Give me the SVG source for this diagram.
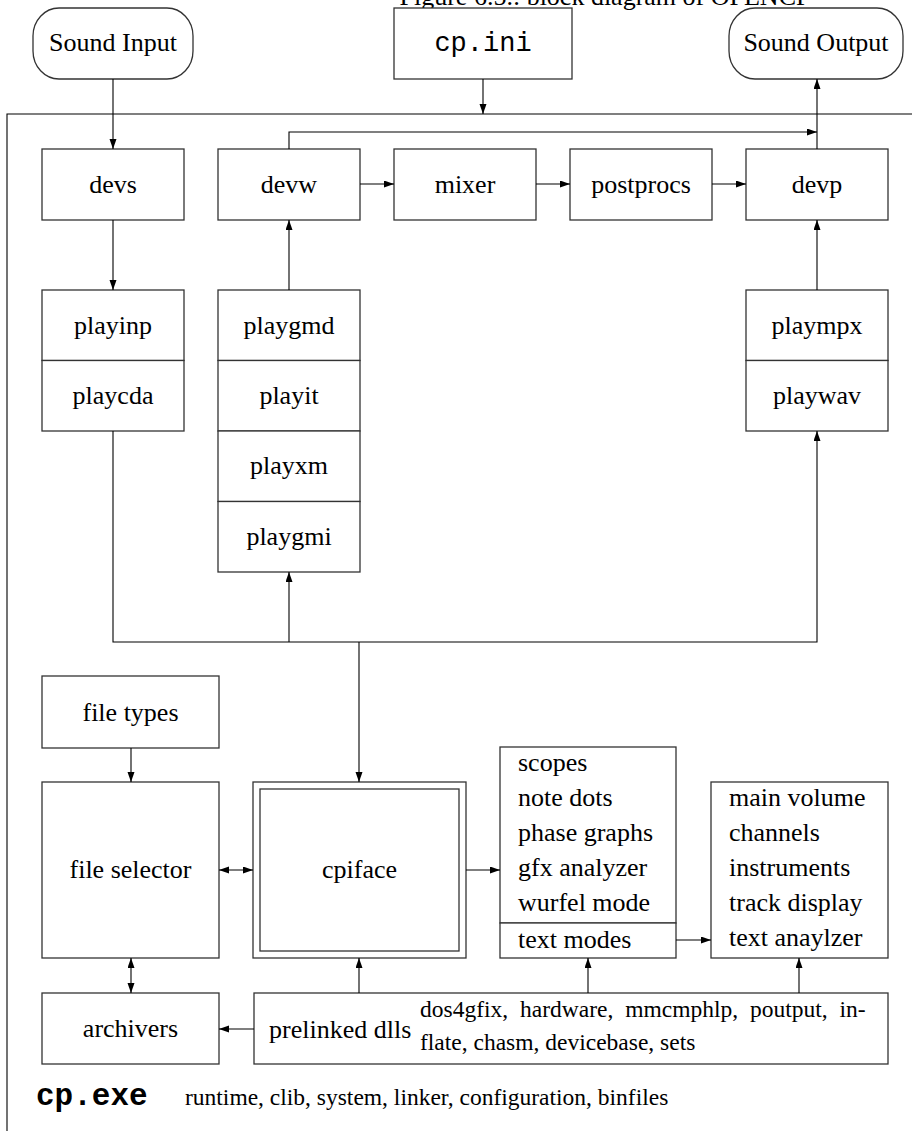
<svg xmlns="http://www.w3.org/2000/svg" width="912" height="1131" viewBox="0 0 912 1131">
<style>
.b{fill:#fff;stroke:#333;stroke-width:1.3}
.t{font-family:"Liberation Serif","Times New Roman",serif;font-size:26px;fill:#000}
.m{text-anchor:middle}
.s{font-family:"Liberation Serif","Times New Roman",serif;font-size:23.5px;fill:#000}
.mono{font-family:"Liberation Mono","Courier New",monospace;fill:#000}
.c{fill:none;stroke:#000;stroke-width:1.1}
</style>
<defs>
<marker id="ah" markerUnits="userSpaceOnUse" markerWidth="11" markerHeight="8" refX="10" refY="3.5" orient="auto-start-reverse">
<path d="M0,0 L10,3.5 L0,7 Z" fill="#000"/>
</marker>
</defs>
<rect width="912" height="1131" fill="#fff"/>
<text class="t m" x="605" y="5">Figure 6.5.: block diagram of OPENCP</text>
<g id="frame"><path class="c" d="M7,1131 V114 H912" stroke="#333" stroke-width="1.3"/></g>
<g id="sound-input"><rect class="b" x="33" y="8" width="160" height="71" rx="26" ry="28"/><text class="t m" x="113" y="51">Sound Input</text></g>
<g id="cp-ini"><rect class="b" x="394" y="8" width="178" height="71"/><text class="mono m" font-size="27" x="483" y="51">cp.ini</text></g>
<g id="sound-output"><rect class="b" x="729" y="8" width="174" height="71" rx="26" ry="28"/><text class="t m" x="816" y="51">Sound Output</text></g>
<g id="devs"><rect class="b" x="42" y="149" width="142" height="71"/><text class="t m" x="113" y="193">devs</text></g>
<g id="devw"><rect class="b" x="218" y="149" width="142" height="71"/><text class="t m" x="289" y="193">devw</text></g>
<g id="mixer"><rect class="b" x="394" y="149" width="142" height="71"/><text class="t m" x="465" y="193">mixer</text></g>
<g id="postprocs"><rect class="b" x="570" y="149" width="142" height="71"/><text class="t m" x="641" y="193">postprocs</text></g>
<g id="devp"><rect class="b" x="746" y="149" width="142" height="71"/><text class="t m" x="817" y="193">devp</text></g>
<g id="input-players">
<rect class="b" x="42" y="290" width="142" height="70.5"/><text class="t m" x="113" y="334">playinp</text>
<rect class="b" x="42" y="360.5" width="142" height="70.5"/><text class="t m" x="113" y="404">playcda</text>
</g>
<g id="wave-players">
<rect class="b" x="218" y="290" width="142" height="70.5"/><text class="t m" x="289" y="334">playgmd</text>
<rect class="b" x="218" y="360.5" width="142" height="70.5"/><text class="t m" x="289" y="404">playit</text>
<rect class="b" x="218" y="431" width="142" height="70.5"/><text class="t m" x="289" y="474">playxm</text>
<rect class="b" x="218" y="501.5" width="142" height="70.5"/><text class="t m" x="289" y="545">playgmi</text>
</g>
<g id="output-players">
<rect class="b" x="746" y="290" width="142" height="70.5"/><text class="t m" x="817" y="334">plaympx</text>
<rect class="b" x="746" y="360.5" width="142" height="70.5"/><text class="t m" x="817" y="404">playwav</text>
</g>
<g id="file-types"><rect class="b" x="42" y="676" width="177" height="72"/><text class="t m" x="130.5" y="721">file types</text></g>
<g id="file-selector"><rect class="b" x="42" y="782" width="177" height="176"/><text class="t m" x="130.5" y="878">file selector</text></g>
<g id="cpiface"><rect class="b" x="253" y="782" width="213" height="176"/><rect class="b" x="260" y="789" width="199" height="162"/><text class="t m" x="359.5" y="878">cpiface</text></g>
<g id="gfx-modes"><rect class="b" x="500" y="747" width="176" height="176"/><rect class="b" x="500" y="923" width="176" height="35"/>
<text class="t" x="518" y="771">scopes</text><text class="t" x="518" y="806">note dots</text><text class="t" x="518" y="841">phase graphs</text><text class="t" x="518" y="876">gfx analyzer</text><text class="t" x="518" y="911">wurfel mode</text><text class="t" x="518" y="948">text modes</text></g>
<g id="text-modes"><rect class="b" x="711" y="782" width="177" height="176"/>
<text class="t" x="729" y="806">main volume</text><text class="t" x="729" y="841">channels</text><text class="t" x="729" y="876">instruments</text><text class="t" x="729" y="911">track display</text><text class="t" x="729" y="946">text anaylzer</text></g>
<g id="archivers"><rect class="b" x="42" y="993" width="177" height="71"/><text class="t m" x="130.5" y="1037">archivers</text></g>
<g id="prelinked-dlls"><rect class="b" x="254" y="993" width="634" height="71"/><text class="t" x="269" y="1038">prelinked dlls</text>
<text class="s" x="420" y="1017" word-spacing="6">dos4gfix, hardware, mmcmphlp, poutput, in-</text>
<text class="s" x="420" y="1050">flate, chasm, devicebase, sets</text></g>
<g id="cp-exe"><text class="mono" font-size="31" font-weight="bold" x="36" y="1105">cp.exe</text><text class="s" x="185" y="1105">runtime, clib, system, linker, configuration, binfiles</text></g>
<g id="connectors">
<path class="c" d="M113,79 V149" marker-end="url(#ah)"/>
<path class="c" d="M483,79 V114" marker-end="url(#ah)"/>
<path class="c" d="M289,149 V132 H817" marker-end="url(#ah)"/>
<path class="c" d="M817,149 V79" marker-end="url(#ah)"/>
<path class="c" d="M360,184 H394" marker-end="url(#ah)"/>
<path class="c" d="M536,184 H570" marker-end="url(#ah)"/>
<path class="c" d="M712,184 H746" marker-end="url(#ah)"/>
<path class="c" d="M113,220 V290" marker-end="url(#ah)"/>
<path class="c" d="M289,290 V220" marker-end="url(#ah)"/>
<path class="c" d="M817,290 V220" marker-end="url(#ah)"/>
<path class="c" d="M113,431 V642 H817 V431" marker-end="url(#ah)"/>
<path class="c" d="M289,642 V572" marker-end="url(#ah)"/>
<path class="c" d="M359,642 V782" marker-end="url(#ah)"/>
<path class="c" d="M131,748 V782" marker-end="url(#ah)"/>
<path class="c" d="M219,870 H253" marker-start="url(#ah)" marker-end="url(#ah)"/>
<path class="c" d="M466,870 H500" marker-end="url(#ah)"/>
<path class="c" d="M676,940 H711" marker-end="url(#ah)"/>
<path class="c" d="M131,958 V993" marker-start="url(#ah)" marker-end="url(#ah)"/>
<path class="c" d="M254,1029 H219" marker-end="url(#ah)"/>
<path class="c" d="M359,993 V958" marker-end="url(#ah)"/>
<path class="c" d="M588,993 V958" marker-end="url(#ah)"/>
<path class="c" d="M799,993 V958" marker-end="url(#ah)"/>
</g>
</svg>
